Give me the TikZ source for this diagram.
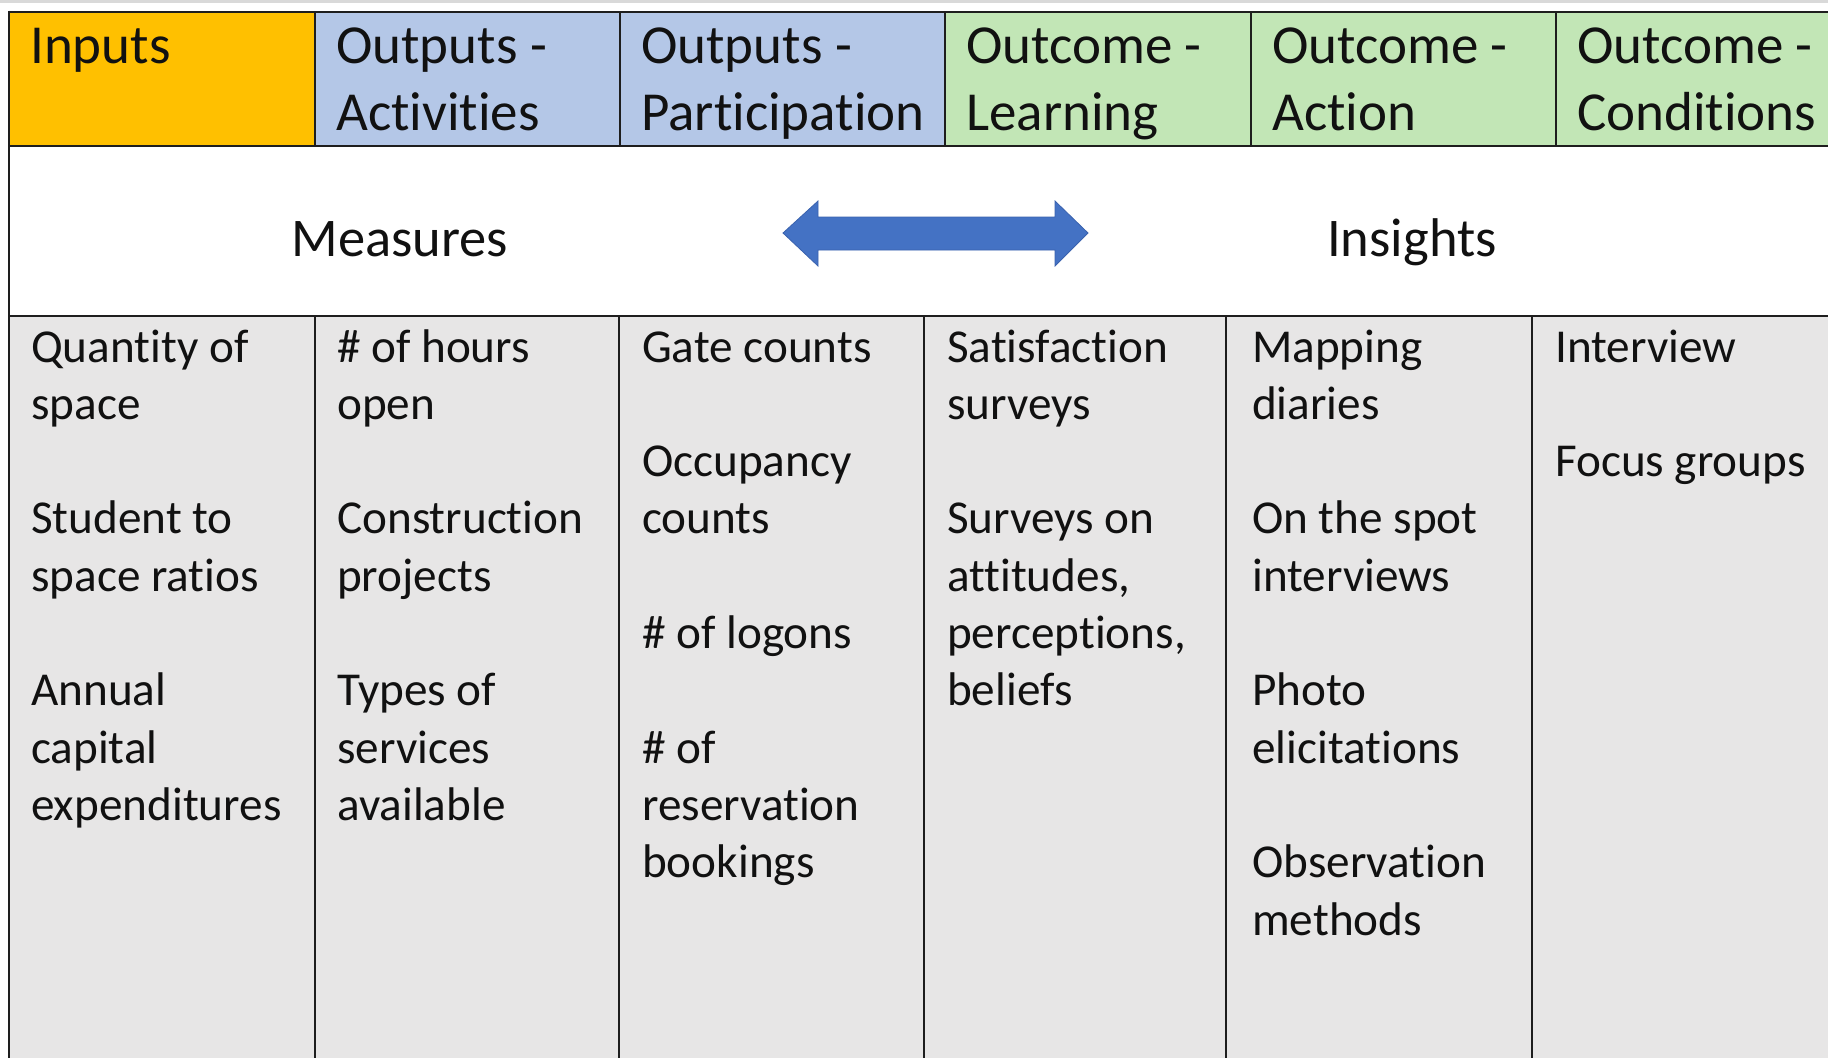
\documentclass[tikz,border=0pt]{standalone}
\usepackage{fontspec}
\setmainfont{Carlito}[Ligatures=NoCommon]
\definecolor{inputsY}{HTML}{FFC000}
\definecolor{outblue}{HTML}{B4C7E7}
\definecolor{outgreen}{HTML}{C2E6B6}
\definecolor{bodygray}{HTML}{E7E6E6}
\definecolor{topgray}{HTML}{D9D9D9}
\definecolor{arrowblue}{HTML}{4472C4}
\definecolor{arrowedge}{HTML}{3A62AE}
\definecolor{txt}{HTML}{111111}
\definecolor{linec}{HTML}{1E1E1E}
\begin{document}
\begin{tikzpicture}[x=1pt,y=-1pt,
  hdrtext/.style={anchor=base west, inner sep=0pt, font=\fontsize{55}{67}\selectfont, text=txt},
  bodytext/.style={anchor=base west, inner sep=0pt, font=\fontsize{47.2}{57.3}\selectfont, text=txt},
  midtext/.style={anchor=base, inner sep=0pt, font=\fontsize{54.5}{67}\selectfont, text=txt},
  rulebold/.style={draw=linec, line width=2.6pt},
  rulethin/.style={draw=linec, line width=2pt}]

\useasboundingbox (0,0) rectangle (1828,1058);
\fill[white] (0,0) rectangle (1828,1058);
\fill[topgray] (0,0) rectangle (1828,2.5);

% cell fills
\fill[inputsY] (9,12) rectangle (315,146);
\fill[outblue] (315,12) rectangle (945,146);
\fill[outgreen] (945,12) rectangle (1828,146);
\fill[bodygray] (9,316) rectangle (1828,1058);

% rules
\draw[rulebold] (9,12) -- (1828,12);
\draw[rulebold] (9,146) -- (1828,146);
\draw[rulebold] (9,316) -- (1828,316);
\draw[rulebold] (9,10.7) -- (9,1058);
\foreach \x in {315,620,945,1251,1556} \draw[rulebold] (\x,12) -- (\x,146);
\foreach \x in {315,619,924,1226,1532} \draw[rulethin] (\x,316) -- (\x,1058);

% header texts
\node[hdrtext] (h1) at (30,63) {Inputs};
\node[hdrtext] (h2) at (336,63) {\begin{tabular}[t]{@{}l@{}}Outputs -\\Activities\end{tabular}};
\node[hdrtext] (h3) at (641,63) {\begin{tabular}[t]{@{}l@{}}Outputs -\\Participation\end{tabular}};
\node[hdrtext] (h4) at (966,63) {\begin{tabular}[t]{@{}l@{}}Outcome -\\Learning\end{tabular}};
\node[hdrtext] (h5) at (1272,63) {\begin{tabular}[t]{@{}l@{}}Outcome -\\Action\end{tabular}};
\node[hdrtext] (h6) at (1577,63) {\begin{tabular}[t]{@{}l@{}}Outcome -\\Conditions\end{tabular}};

% measures / insights row
\node[midtext] (mea) at (400,256) {Measures};
\node[midtext] (ins) at (1412,256) {Insights};
\fill[arrowblue, draw=arrowedge, line width=0.8pt, line join=miter]
  (783,233) -- (818,201) -- (818,217) -- (1055,217) -- (1055,201) -- (1088,233)
  -- (1055,266) -- (1055,250) -- (818,250) -- (818,266) -- cycle;

% body texts
\node[bodytext] (b1) at (31,362) {\begin{tabular}[t]{@{}l@{}}Quantity of\\space\\ \\Student to\\space ratios\\ \\Annual\\capital\\expenditures\end{tabular}};
\node[bodytext] (b2) at (337,362) {\begin{tabular}[t]{@{}l@{}}\# of hours\\open\\ \\Construction\\projects\\ \\Types of\\services\\available\end{tabular}};
\node[bodytext] (b3) at (642,362) {\begin{tabular}[t]{@{}l@{}}Gate counts\\ \\Occupancy\\counts\\ \\\# of logons\\ \\\# of\\reservation\\bookings\end{tabular}};
\node[bodytext] (b4) at (947,362) {\begin{tabular}[t]{@{}l@{}}Satisfaction\\surveys\\ \\Surveys on\\attitudes,\\perceptions,\\beliefs\end{tabular}};
\node[bodytext] (b5) at (1252,362) {\begin{tabular}[t]{@{}l@{}}Mapping\\diaries\\ \\On the spot\\interviews\\ \\Photo\\elicitations\\ \\Observation\\methods\end{tabular}};
\node[bodytext] (b6) at (1555,362) {\begin{tabular}[t]{@{}l@{}}Interview\\ \\Focus groups\end{tabular}};
\end{tikzpicture}
\end{document}
